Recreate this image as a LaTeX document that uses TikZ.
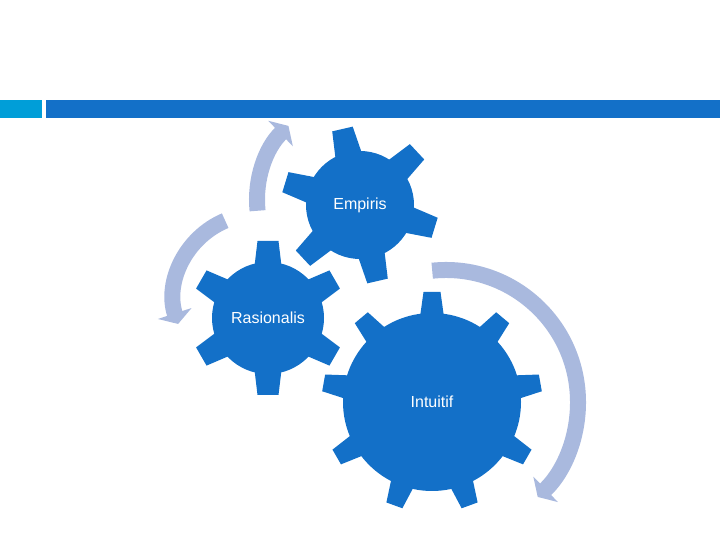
\documentclass[tikz,border=0pt]{standalone}
\usepackage{fontspec}
\setmainfont{Liberation Sans}
\usepackage{tikz}
\usetikzlibrary{arrows.meta}

\definecolor{gearblue}{RGB}{19,112,200}
\definecolor{barcyan}{RGB}{0,158,216}
\definecolor{turngrey}{RGB}{169,185,222}

\begin{document}
\begin{tikzpicture}[
            x = 1pt, y = 1pt, % one unit per pixel
            gear/.style = {
                circle,
                draw = none,
                fill = gearblue,
                text = white,
                inner sep = 0pt,
                font = \fontsize{16}{19}\selectfont
            },
            turn/.style = {
                draw = turngrey,
                line width = 16pt,
                -{Triangle[length = 11pt, width = 35pt]}
            }
        ]
        \useasboundingbox (0,0) rectangle (720,540);

	% title bar
        \fill[barcyan] (0,422) rectangle (42,440);
        \fill[gearblue] (46,422) rectangle (720,440);

	% turning arrows
        \draw[turn] ([shift={(0,5)}]360,335) ++(186:103) arc[start angle = 186, end angle = 134, radius = 103pt];
        \draw[turn] ([shift={(-10,20)}]268,222) ++(113:84) arc[start angle = 113, end angle = 198, radius = 84pt];
        \draw[turn] ([shift={(14,0)}]432,138) ++(96:132) arc[start angle = 96, end angle = -46, radius = 132pt];

	% small gears
        \node[gear, minimum size = 108pt] (E) at (360,335) {Empiris};
        \foreach \a in {43,103,...,343}
            \fill[gearblue, shift = {(E.center)}, rotate = \a]
                (50,-13.5) -- (78,-10.5) -- (78,10.5) -- (50,13.5) -- cycle;

        \node[gear, minimum size = 112pt] (R) at (268,222) {Rasionalis};
        \foreach \a in {30,90,...,330}
            \fill[gearblue, shift = {(R.center)}, rotate = \a]
                (52,-13.5) -- (77,-10.5) -- (77,10.5) -- (52,13.5) -- cycle;

	% big gear
        \node[gear, minimum size = 178pt] (I) at (432,138) {Intuitif};
        \foreach \a in {10,50,...,330}
            \fill[gearblue, shift = {(I.center)}, rotate = \a]
                (85,-12) -- (110,-8.5) -- (110,8.5) -- (85,12) -- cycle;

\end{tikzpicture}
\end{document}
